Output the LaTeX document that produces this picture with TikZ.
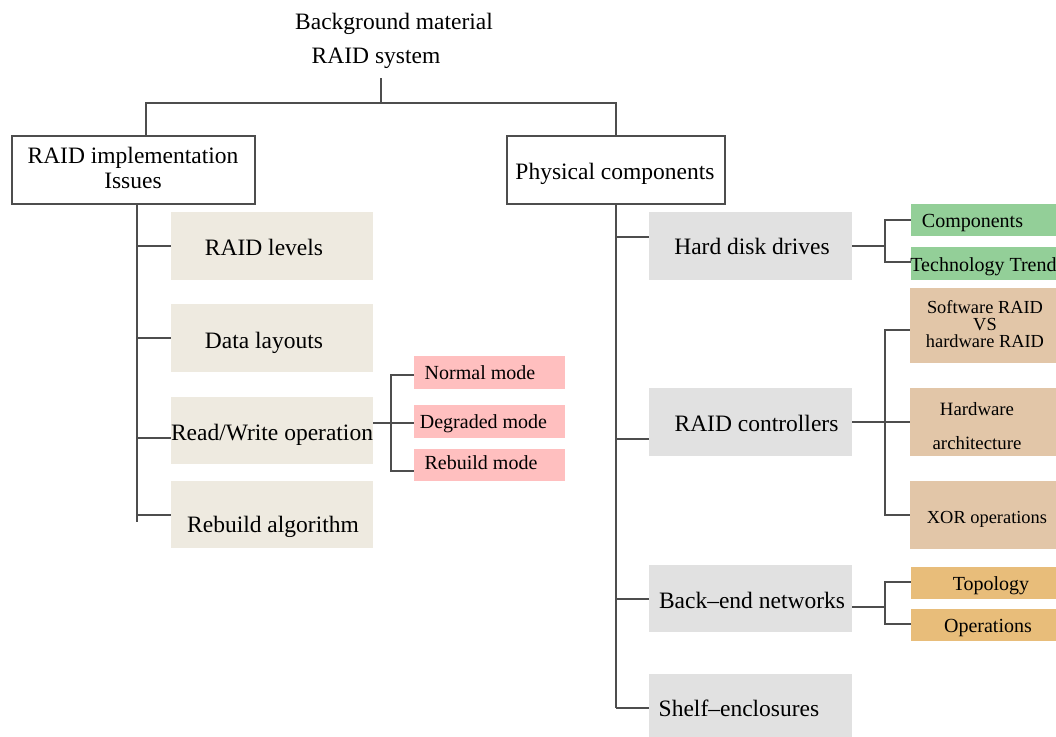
\documentclass[tikz,border=0pt]{standalone}
\usepackage{fontspec}
\setmainfont{Liberation Serif}
\definecolor{linec}{HTML}{4D4D4D}
\definecolor{beige}{HTML}{EEEAE0}
\definecolor{grayb}{HTML}{E1E1E1}
\definecolor{pinkb}{HTML}{FFBFBF}
\definecolor{greenb}{HTML}{93CF98}
\definecolor{tanb}{HTML}{E2C6A8}
\definecolor{orangeb}{HTML}{E8BD7A}
\begin{document}
\begin{tikzpicture}[x=0.5pt,y=-0.5pt,
  conn/.style={draw=linec,line width=0.8pt},
  hdrbox/.style={draw=linec,line width=0.6pt,fill=white,inner sep=0pt},
  fbox/.style={inner sep=0pt,draw=none},
  txt/.style={inner sep=0pt,font=\fontsize{11.75}{12.5}\selectfont,align=center},
  stxt/.style={inner sep=0pt,font=\fontsize{10}{11}\selectfont,align=center},
  xtxt/.style={inner sep=0pt,font=\fontsize{9.2}{8.5}\selectfont,align=center},
  dn/.style={yshift=-1.5pt}]
\useasboundingbox (0,0) rectangle (1056,736);
\clip (0,0) rectangle (1056,736);

% title
\node[txt,dn] (title1) at (394,21) {Background material};
\node[txt,dn] (title2) at (376,55) {RAID system};

% header boxes
\node[hdrbox,minimum width=121.5pt,minimum height=34pt] (lbox) at (133.5,170) {};
\node[txt] (lboxt) at (133,168) {RAID implementation\\Issues};
\node[hdrbox,minimum width=109pt,minimum height=34pt] (pbox) at (616,170) {};
\node[txt,dn] (pboxt) at (615,171) {Physical components};

% left column
\node[fbox,fill=beige,minimum width=101pt,minimum height=34pt] (b1) at (272,246) {};
\node[fbox,fill=beige,minimum width=101pt,minimum height=34pt] (b2) at (272,338) {};
\node[fbox,fill=beige,minimum width=101pt,minimum height=33.5pt] (b3) at (272,430.5) {};
\node[fbox,fill=beige,minimum width=101pt,minimum height=33.5pt] (b4) at (272,514.5) {};
\node[txt] (b1t) at (264,247) {RAID levels};
\node[txt,dn] (b2t) at (264,340) {Data layouts};
\node[txt,dn] (b3t) at (272,432) {Read/Write operation};
\node[txt,dn] (b4t) at (273,524) {Rebuild algorithm};

% modes
\node[fbox,fill=pinkb,minimum width=75.5pt,minimum height=16.5pt] (p1) at (489.5,372.5) {};
\node[fbox,fill=pinkb,minimum width=75.5pt,minimum height=16.5pt] (p2) at (489.5,421.5) {};
\node[fbox,fill=pinkb,minimum width=75.5pt,minimum height=16pt] (p3) at (489.5,465) {};
\node[stxt] (p1t) at (480,373) {Normal mode};
\node[stxt,dn] (p2t) at (483.5,421) {Degraded mode};
\node[stxt] (p3t) at (481,463) {Rebuild mode};

% right column
\node[fbox,fill=grayb,minimum width=101.5pt,minimum height=34pt] (g1) at (750.5,246) {};
\node[fbox,fill=grayb,minimum width=101.5pt,minimum height=34pt] (g2) at (750.5,422) {};
\node[fbox,fill=grayb,minimum width=101.5pt,minimum height=33.5pt] (g3) at (750.5,598.5) {};
\node[fbox,fill=grayb,minimum width=101.5pt,minimum height=34pt] (g4) at (750.5,708) {};
\node[txt] (g1t) at (752,246) {Hard disk drives};
\node[txt] (g2t) at (756.5,423) {RAID controllers};
\node[txt] (g3t) at (752,600) {Back--end networks};
\node[txt] (g4t) at (739,708) {Shelf--enclosures};

% disk drive topics
\node[fbox,fill=greenb,minimum width=74.5pt,minimum height=16pt] (c1) at (985.5,220) {};
\node[fbox,fill=greenb,minimum width=74.5pt,minimum height=16.5pt] (c2) at (985.5,263.5) {};
\node[stxt,dn] (c1t) at (972.5,220) {Components};
\node[stxt,dn,anchor=west] (c2t) at (910,264) {Technology Trend};

% controller topics
\node[fbox,fill=tanb,minimum width=75pt,minimum height=37.5pt] (t1) at (985,325.5) {};
\node[fbox,fill=tanb,minimum width=75pt,minimum height=34pt] (t2) at (985,422) {};
\node[fbox,fill=tanb,minimum width=75pt,minimum height=34pt] (t3) at (985,515) {};
\node[xtxt] (t1t) at (985,324) {Software RAID\\VS\\hardware RAID};
\node[inner sep=0pt,font=\fontsize{9.4}{17}\selectfont,align=center] (t2t) at (977,426) {Hardware\\architecture};
\node[xtxt,yshift=-1pt] (t3t) at (987,517) {XOR operations};

% network topics
\node[fbox,fill=orangeb,minimum width=74.5pt,minimum height=16pt] (o1) at (985.5,583) {};
\node[fbox,fill=orangeb,minimum width=74.5pt,minimum height=16pt] (o2) at (985.5,625) {};
\node[stxt,dn] (o1t) at (991,583) {Topology};
\node[stxt,dn] (o2t) at (988,625) {Operations};

% junction points
\coordinate (stem) at (381,78);
\coordinate (jtop) at (381,103);
\coordinate (jl) at (146,103);
\coordinate (ltrunk) at (137,522);
\coordinate (rtrunk) at (616,708);
\coordinate (mb) at (391,423);
\coordinate (hb) at (885,246);
\coordinate (rb) at (885,422);
\coordinate (bb) at (885,607);

% top level
\draw[conn] (stem) -- (jtop);
\draw[conn] (jl |- lbox.north) -- (jl) -- (pbox.north |- jl) -- (pbox.north);

% left tree
\draw[conn] (ltrunk |- lbox.south) -- (ltrunk);
\draw[conn] (ltrunk |- b1.west) -- (b1.west);
\draw[conn] (ltrunk |- b2.west) -- (b2.west);
\draw[conn] ([yshift=-3.75pt]ltrunk |- b3.west) -- ([yshift=-3.75pt]b3.west);
\draw[conn] ([yshift=-0.25pt]ltrunk |- b4.west) -- ([yshift=-0.25pt]b4.west);

% modes bracket
\draw[conn] ([yshift=-0.75pt]b3.east |- p2.west) -- ([yshift=-0.75pt]p2.west);
\draw[conn] ([yshift=-1.25pt]p1.west) -| (mb) |- ([yshift=-3pt]p3.west);

% right tree
\draw[conn] (rtrunk |- pbox.south) -- (rtrunk);
\draw[conn] ([yshift=4.5pt]rtrunk |- g1.west) -- ([yshift=4.5pt]g1.west);
\draw[conn] ([yshift=-8.5pt]rtrunk |- g2.west) -- ([yshift=-8.5pt]g2.west);
\draw[conn] ([yshift=-0.25pt]rtrunk |- g3.west) -- ([yshift=-0.25pt]g3.west);
\draw[conn] (rtrunk |- g4.west) -- (g4.west);

% second-level brackets
\draw[conn] (g1.east) -- (hb);
\draw[conn] (c1.west) -| (hb) |- ([yshift=0.75pt]c2.west);
\draw[conn] (g2.east) -- (t2.west);
\draw[conn] ([yshift=-2.25pt]t1.west) -| (rb) |- (t3.west);
\draw[conn] ([yshift=-4.25pt]g3.east) -- (bb);
\draw[conn] ([yshift=0.5pt]o1.west) -| (bb) |- ([yshift=0.5pt]o2.west);
\end{tikzpicture}
\end{document}
